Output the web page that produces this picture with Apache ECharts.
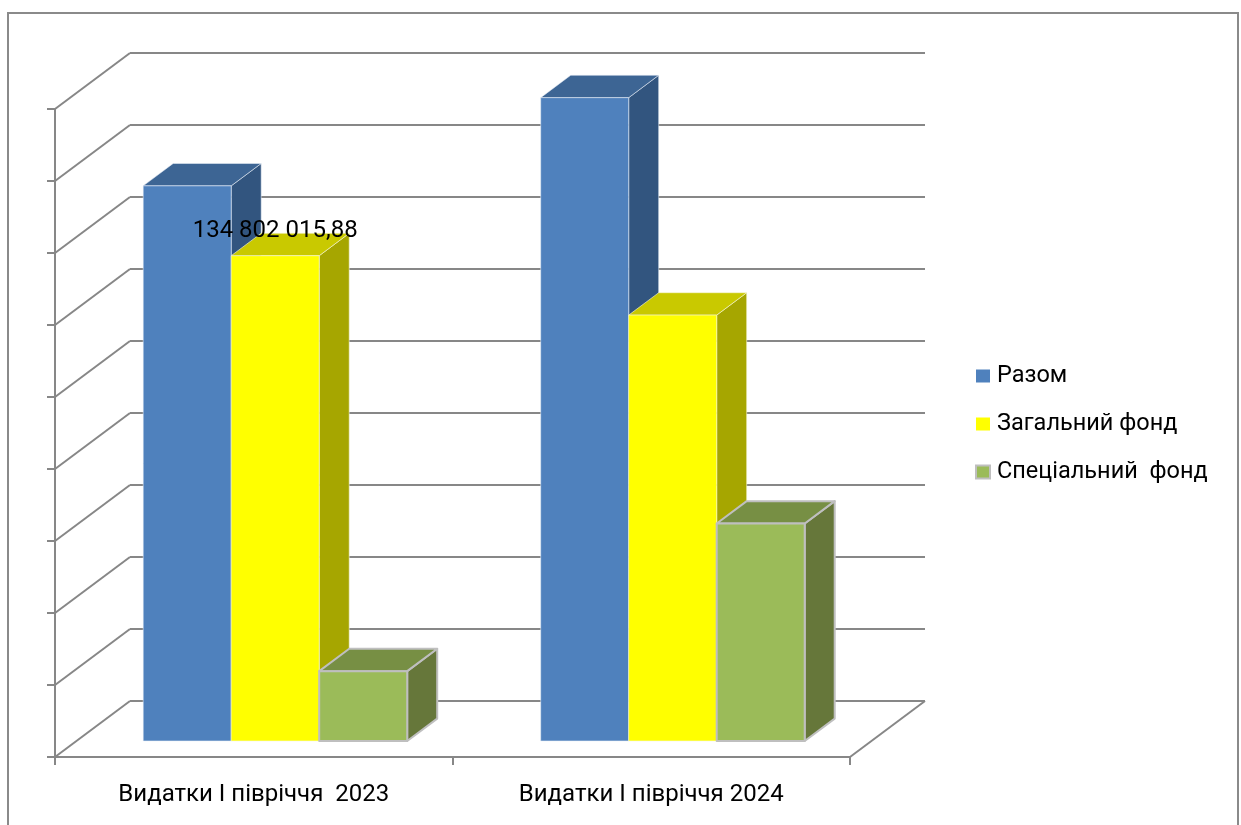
<!DOCTYPE html>
<html>
<head>
<meta charset="utf-8">
<script src="https://cdn.jsdelivr.net/npm/echarts@6/dist/echarts.min.js"></script>
<style>
  html, body { margin: 0; padding: 0; background: #ffffff; }
  #chart { width: 1241px; height: 825px; }
</style>
</head>
<body>
<div id="chart"></div>
<script>
// Expenditure for the first half-year, UAH
const categories = ['Видатки І півріччя  2023', 'Видатки І півріччя 2024'];
const seriesNames = ['Разом', 'Загальний фонд', 'Спеціальний  фонд'];
const totalValues = [154200000, 178700000];
const generalFundValues = [134802015.88, 118300000];
const specialFundValues = [19400000, 60400000];
// value ticks of the back wall / side wall grid
const wallTicks = [0, 20000000, 40000000, 60000000, 80000000, 100000000,
                   120000000, 140000000, 160000000, 180000000];
// [series index, category index] of the points that carry a value label
const labeledPoints = [[1, 0]];

const seriesValues = [totalValues, generalFundValues, specialFundValues];

const FONT = 'Roboto, "Noto Sans", "DejaVu Sans", sans-serif';
const AXIS_COLOR = '#878787';

// oblique projection: offset from the back wall to the front edge of the floor
const DEPTH_DX = -75;
const DEPTH_DY = 56;
// back wall plotting area; the front plane is the same box shifted by the depth
const BACK = { left: 130, top: 53, right: 316, bottom: 124 };
const FRONT = {
  left: BACK.left + DEPTH_DX,
  top: BACK.top + DEPTH_DY,
  right: BACK.right - DEPTH_DX,
  bottom: BACK.bottom - DEPTH_DY
};
const BAR_WIDTH_RATIO = 0.2214;  // bar width as a share of the category band
const FRONT_DEPTH = 0.714;       // where the bar front faces sit (0 = back wall, 1 = front)
const BAR_DEPTH = 0.4;           // bar thickness as a share of the floor depth

const barStyles = [
  { front: '#4F81BD', top: '#3D6594', side: '#32557F', stroke: 'rgba(235,240,248,0.55)', lw: 1 },
  { front: '#FFFF00', top: '#C9C900', side: '#A6A600', stroke: 'rgba(245,245,220,0.6)', lw: 1 },
  { front: '#9BBB59', top: '#778F44', side: '#66773A', stroke: '#BFBFBF', lw: 2 }
];

function formatValue(v) {
  const parts = v.toFixed(2).split('.');
  const intPart = parts[0].replace(/\B(?=(\d{3})+(?!\d))/g, ' ');
  return intPart + ',' + parts[1];
}

// diagonal lines of the side wall and the floor
function renderWall(params, api) {
  const cs = params.coordSys;
  const y = api.coord([0, api.value(1)])[1];
  const lineStyle = { stroke: AXIS_COLOR, lineWidth: 2 };
  const children = [{
    type: 'line',
    shape: { x1: cs.x, y1: y, x2: cs.x + DEPTH_DX, y2: y + DEPTH_DY },
    style: lineStyle
  }];
  if (api.value(1) === 0) {
    children.push({
      type: 'line',
      shape: { x1: cs.x + cs.width, y1: y, x2: cs.x + cs.width + DEPTH_DX, y2: y + DEPTH_DY },
      style: lineStyle
    });
  }
  return { type: 'group', children: children };
}

function makeBarRenderer(slot, style) {
  return function (params, api) {
    const cat = api.value(0);
    const val = api.value(1);
    const base = api.coord([cat, 0]);
    const topPt = api.coord([cat, val]);
    const band = api.size([1, 0])[0];
    const w = band * BAR_WIDTH_RATIO;
    const fx = base[0] + DEPTH_DX * FRONT_DEPTH - 1.5 * w + slot * w;
    const fyb = base[1] + DEPTH_DY * FRONT_DEPTH;
    const fyt = topPt[1] + DEPTH_DY * FRONT_DEPTH;
    const ox = -DEPTH_DX * BAR_DEPTH;
    const oy = -DEPTH_DY * BAR_DEPTH;
    const edge = { stroke: style.stroke, lineWidth: style.lw, lineJoin: 'round' };
    const children = [
      {
        type: 'polygon',
        shape: { points: [[fx + w, fyt], [fx + w + ox, fyt + oy], [fx + w + ox, fyb + oy], [fx + w, fyb]] },
        style: Object.assign({ fill: style.side }, edge)
      },
      {
        type: 'polygon',
        shape: { points: [[fx, fyt], [fx + w, fyt], [fx + w + ox, fyt + oy], [fx + ox, fyt + oy]] },
        style: Object.assign({ fill: style.top }, edge)
      },
      {
        type: 'rect',
        shape: { x: fx, y: fyt, width: w, height: fyb - fyt },
        style: Object.assign({ fill: style.front }, edge)
      }
    ];
    const hasLabel = labeledPoints.some(p => p[0] === slot && p[1] === params.dataIndex);
    if (hasLabel) {
      children.push({
        type: 'text',
        x: fx + w / 2,
        y: fyt - 25,
        style: {
          text: formatValue(val),
          fill: '#000000',
          fontSize: 24,
          fontFamily: FONT,
          align: 'center',
          verticalAlign: 'middle'
        }
      });
    }
    return { type: 'group', children: children };
  };
}

const chart = echarts.init(document.getElementById('chart'), null, { renderer: 'canvas' });

const series = [{
  name: 'wall',
  type: 'custom',
  xAxisIndex: 0,
  yAxisIndex: 0,
  silent: true,
  renderItem: renderWall,
  data: wallTicks.map(v => [0, v]),
  encode: { x: 0, y: 1 },
  z: 1
}];

seriesNames.forEach((name, i) => {
  series.push({
    name: name,
    type: 'custom',
    xAxisIndex: 0,
    yAxisIndex: 0,
    itemStyle: { color: barStyles[i].front },
    renderItem: makeBarRenderer(i, barStyles[i]),
    data: seriesValues[i].map((v, c) => [c, v]),
    encode: { x: 0, y: 1 },
    z: 2
  });
});

const axisLine = { show: true, lineStyle: { color: AXIS_COLOR, width: 2 } };

chart.setOption({
  animation: false,
  backgroundColor: '#ffffff',
  grid: [
    { left: BACK.left, top: BACK.top, right: BACK.right, bottom: BACK.bottom },
    { left: FRONT.left, top: FRONT.top, right: FRONT.right, bottom: FRONT.bottom }
  ],
  xAxis: [
    { gridIndex: 0, type: 'category', data: categories, show: false },
    {
      gridIndex: 1, type: 'category', data: categories,
      axisLine: axisLine,
      axisTick: { show: true, length: 8, lineStyle: { color: AXIS_COLOR, width: 2 } },
      axisLabel: { color: '#000000', fontSize: 24, fontFamily: FONT, margin: 26 }
    }
  ],
  yAxis: [
    {
      gridIndex: 0, type: 'value', min: 0, max: 180000000, interval: 20000000,
      axisLine: { show: false }, axisTick: { show: false }, axisLabel: { show: false },
      splitLine: { show: true, lineStyle: { color: AXIS_COLOR, width: 2 } }
    },
    {
      gridIndex: 1, type: 'value', min: 0, max: 180000000, interval: 20000000,
      axisLine: axisLine,
      axisTick: { show: true, length: 8, lineStyle: { color: AXIS_COLOR, width: 2 } },
      axisLabel: { show: false },
      splitLine: { show: false }
    }
  ],
  legend: {
    orient: 'vertical',
    left: 975,
    top: 364,
    padding: 0,
    itemWidth: 14,
    itemHeight: 13,
    itemGap: 24,
    icon: 'rect',
    selectedMode: false,
    textStyle: {
      color: '#000000', fontSize: 23.5, fontFamily: FONT, lineHeight: 24,
      padding: [0, 0, 0, 2]
    },
    data: seriesNames.map((n, i) => ({
      name: n,
      itemStyle: i === 2 ? { borderColor: '#BFBFBF', borderWidth: 2 } : { borderWidth: 0 }
    }))
  },
  graphic: [{
    type: 'rect',
    silent: true,
    shape: { x: 8, y: 13, width: 1230, height: 840 },
    style: { fill: 'none', stroke: '#8a8a8a', lineWidth: 2 },
    z: 0
  }],
  series: series
});
</script>
</body>
</html>
